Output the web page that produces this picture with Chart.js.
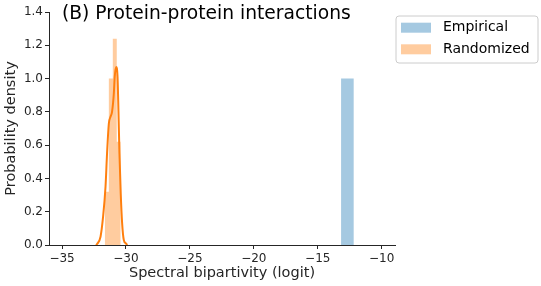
<!DOCTYPE html>
<html>
<head>
<meta charset="utf-8">
<script src="https://cdn.jsdelivr.net/npm/chart.js@4/dist/chart.umd.min.js"></script>
<style>
  body { margin: 0; background: #fff; }
  canvas { display: block; }
</style>
</head>
<body>
<canvas id="histChart" width="541" height="286"></canvas>
<script>
// Histogram bins (left edges + last right edge) and densities
const empiricalEdges = [-13.18, -12.18];
const empiricalDensity = [1.0];

const randomEdges = [-31.66, -31.34, -31.03, -30.72, -30.41];
const randomDensity = [0.32, 1.0, 1.24, 0.62];

// KDE curve of the randomized values
const kdeX = [-32.35, -32.26, -31.99, -31.79, -31.60, -31.48, -31.34, -31.21, -31.09, -30.95,
              -30.88, -30.77, -30.66, -30.59, -30.51, -30.41, -30.30, -30.17, -30.01, -29.90];
const kdeY = [0.0, 0.006, 0.05, 0.17, 0.35, 0.55, 0.73, 0.77, 0.80, 0.91,
              1.01, 1.07, 1.01, 0.81, 0.55, 0.31, 0.13, 0.03, 0.01, 0.0];

const xTicks = [-35, -30, -25, -20, -15, -10];
const yTicks = [0, 0.2, 0.4, 0.6, 0.8, 1.0, 1.2, 1.4];
const legendLabels = ['Empirical', 'Randomized'];

const blueFill = 'rgba(31,119,180,0.4)';
const orangeFill = 'rgba(255,127,14,0.4)';
const ink = '#262626';

function histPoints(edges, dens) {
    const pts = dens.map((d, i) => ({ x: edges[i], y: d }));
    pts.push({ x: edges[edges.length - 1], y: 0 });
    return pts;
}

const fontFam = '"DejaVu Sans", sans-serif';

// title + legend drawn on top
const extras = {
    id: 'extras',
    afterDraw(chart) {
        const ctx = chart.ctx;
        ctx.save();
        ctx.fillStyle = '#000';
        ctx.font = '18.7px ' + fontFam;
        ctx.textBaseline = 'alphabetic';
        ctx.textAlign = 'left';
        ctx.fillText('(B) Protein-protein interactions', 62, 18.5);

        // legend box
        const bx = 396, by = 16, bw = 142, bh = 47, r = 3;
        ctx.beginPath();
        ctx.moveTo(bx + r, by);
        ctx.arcTo(bx + bw, by, bx + bw, by + bh, r);
        ctx.arcTo(bx + bw, by + bh, bx, by + bh, r);
        ctx.arcTo(bx, by + bh, bx, by, r);
        ctx.arcTo(bx, by, bx + bw, by, r);
        ctx.closePath();
        ctx.fillStyle = 'rgba(255,255,255,0.8)';
        ctx.fill();
        ctx.strokeStyle = '#cccccc';
        ctx.lineWidth = 1;
        ctx.stroke();

        const colors = [blueFill, orangeFill];
        const rows = [27.7, 49.3];
        ctx.font = '14px ' + fontFam;
        ctx.textBaseline = 'middle';
        legendLabels.forEach((lab, i) => {
            ctx.fillStyle = colors[i];
            ctx.fillRect(401, rows[i] - 5, 30, 10);
            ctx.fillStyle = '#000';
            ctx.fillText(lab, 443, rows[i]);
        });
        ctx.restore();
    }
};

new Chart(document.getElementById('histChart').getContext('2d'), {
    type: 'line',
    data: {
        datasets: [{
            label: legendLabels[1],
            data: histPoints(randomEdges, randomDensity),
            stepped: true,
            fill: 'origin',
            backgroundColor: orangeFill,
            borderColor: 'rgba(0,0,0,0)',
            borderWidth: 0,
            pointRadius: 0
        }, {
            label: legendLabels[0],
            data: histPoints(empiricalEdges, empiricalDensity),
            stepped: true,
            fill: 'origin',
            backgroundColor: blueFill,
            borderColor: 'rgba(0,0,0,0)',
            borderWidth: 0,
            pointRadius: 0
        }, {
            label: 'kde',
            data: kdeX.map((x, i) => ({ x: x, y: kdeY[i] })),
            borderColor: '#ff7f0e',
            borderWidth: 2,
            cubicInterpolationMode: 'monotone',
            fill: false,
            pointRadius: 0
        }]
    },
    options: {
        responsive: false,
        animation: false,
        devicePixelRatio: 1,
        layout: { padding: { top: 12, right: 146, left: 0, bottom: 0 } },
        plugins: {
            legend: { display: false },
            title: { display: false },
            tooltip: { enabled: false }
        },
        scales: {
            x: {
                type: 'linear',
                min: -36.02,
                max: -8.96,
                afterBuildTicks: s => { s.ticks = xTicks.map(v => ({ value: v })); },
                afterFit: s => { s.height = 41; },
                ticks: {
                    color: ink,
                    font: { family: fontFam, size: 12 },
                    padding: 3,
                    maxRotation: 0,
                    callback: v => (v < 0 ? '\u2212' + Math.abs(v) : String(v))
                },
                grid: { display: true, drawOnChartArea: false, drawTicks: true, tickLength: 4, color: ink },
                border: { display: true, color: ink, width: 1 },
                title: {
                    display: true,
                    text: 'Spectral bipartivity (logit)',
                    color: ink,
                    font: { family: fontFam, size: 14.5 },
                    padding: { top: 0, bottom: 4.5 }
                }
            },
            y: {
                min: 0,
                max: 1.4,
                afterBuildTicks: s => { s.ticks = yTicks.map(v => ({ value: v })); },
                afterFit: s => { s.width = 49; },
                ticks: {
                    color: ink,
                    font: { family: fontFam, size: 12 },
                    padding: 2,
                    callback: v => v.toFixed(1)
                },
                grid: { display: true, drawOnChartArea: false, drawTicks: true, tickLength: 4, color: ink },
                border: { display: true, color: ink, width: 1 },
                title: {
                    display: true,
                    text: 'Probability density',
                    color: ink,
                    font: { family: fontFam, size: 14.5 },
                    padding: { top: 3, bottom: 0 }
                }
            }
        }
    },
    plugins: [extras]
});
</script>
</body>
</html>
